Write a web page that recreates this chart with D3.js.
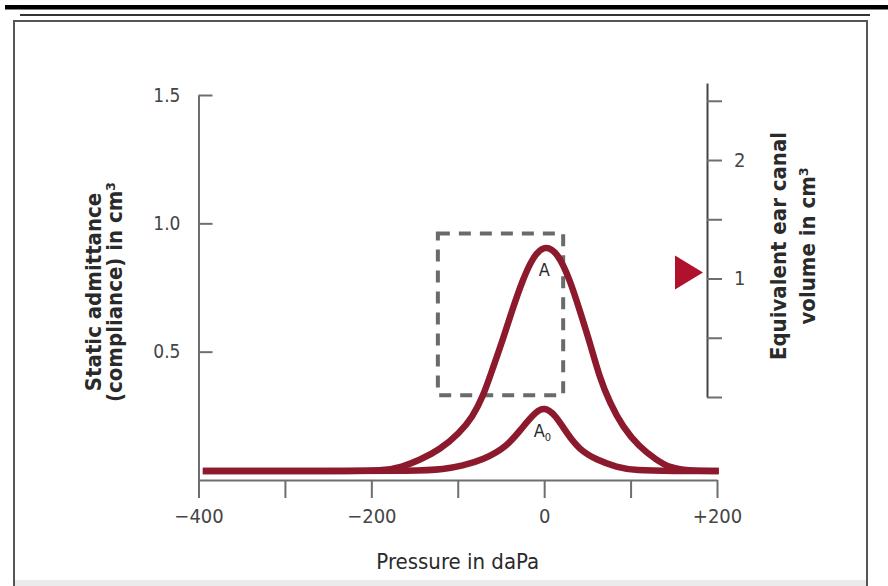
<!DOCTYPE html>
<html>
  <head>
    <title>Tympanogram</title>
    <script src="https://cdn.jsdelivr.net/npm/d3@7"></script>
    <style>
      body { margin: 0; background: #fff; }
      .tick text { font-family: "DejaVu Sans Condensed", "DejaVu Sans", sans-serif; fill: #454545; }
      .title { font-family: "DejaVu Sans Condensed", "DejaVu Sans", sans-serif; fill: #2a2a2a; }
    </style>
  </head>
  <body>
    <svg width="888" height="586" id="mainsvg"></svg>
    <script>
      // values
      const pressureTicks = [-400, -300, -200, -100, 0, 100, 200];
      const pressureLabels = ['\u2212400', '', '\u2212200', '', '0', '', '+200'];
      const admittanceTicks = [0.5, 1.0, 1.5];
      const volumeTicks = [0, 0.5, 1, 1.5, 2, 2.5];

      // curve A (outer) and A0 (inner): pressure in daPa, admittance in cm3
      const outerP = [-395, -300, -220, -185, -165, -144, -121, -98, -83, -71, -60, -48, -37, -25, -13, 0, 15, 30, 41, 53, 64, 76, 91, 110, 130, 145, 165, 202];
      const outerV = [0.035, 0.035, 0.035, 0.037, 0.05, 0.078, 0.117, 0.183, 0.245, 0.323, 0.43, 0.545, 0.662, 0.779, 0.869, 0.915, 0.89, 0.779, 0.662, 0.534, 0.401, 0.30, 0.206, 0.129, 0.078, 0.048, 0.036, 0.035];
      const innerP = [-395, -250, -150, -115, -95, -71, -43, -25, -9, 0, 12, 26, 41, 61, 84, 105, 150, 202];
      const innerV = [0.035, 0.035, 0.035, 0.042, 0.055, 0.078, 0.129, 0.206, 0.268, 0.283, 0.258, 0.183, 0.117, 0.078, 0.05, 0.037, 0.035, 0.035];

      // dashed box (pressure range, admittance range) and volume marker
      const boxP = [-123, 22];
      const boxV = [0.33, 0.96];
      const markerVolume = 1.05;

      const svg = d3.select('#mainsvg');
      const red = '#8c1a2c';
      const gray = '#6e6e6e';

      // page frame
      svg.append('rect').attr('x', 5).attr('y', 5).attr('width', 883).attr('height', 4.5).attr('fill', '#000');
      svg.append('line').attr('x1', 20).attr('x2', 870).attr('y1', 15).attr('y2', 15)
        .attr('stroke', '#333').attr('stroke-width', 2);
      svg.append('rect').attr('x', 14).attr('y', 580).attr('width', 853).attr('height', 6).attr('fill', '#ebebeb');
      svg.append('rect').attr('x', 14).attr('y', 21).attr('width', 853).attr('height', 570)
        .attr('fill', 'none').attr('stroke', '#555').attr('stroke-width', 2);

      const xScale = d3.scaleLinear().domain([-400, 200]).range([198.5, 717]);
      const yScale = d3.scaleLinear().domain([0, 1.5]).range([480, 95]);
      const yRight = d3.scaleLinear().domain([0, 2.65]).range([397, 83]);

      // x axis
      const xAxis = d3.axisBottom(xScale)
        .tickValues(pressureTicks)
        .tickFormat((d, i) => pressureLabels[i])
        .tickSize(18)
        .tickSizeOuter(0)
        .tickPadding(11);
      const xg = svg.append('g').attr('transform', 'translate(0,480)').call(xAxis);
      xg.selectAll('.domain').attr('stroke', gray).attr('stroke-width', 2);
      xg.selectAll('.tick line').attr('stroke', gray).attr('stroke-width', 2);
      xg.selectAll('.tick text').attr('font-size', 20);

      // left axis
      const yAxis = d3.axisLeft(yScale)
        .tickValues(admittanceTicks)
        .tickFormat(d3.format('.1f'))
        .tickSize(-14)
        .tickSizeOuter(0)
        .tickPadding(18);
      const yg = svg.append('g').attr('transform', 'translate(198.5,0)').call(yAxis);
      yg.selectAll('.domain').attr('stroke', gray).attr('stroke-width', 2);
      yg.selectAll('.tick line').attr('stroke', gray).attr('stroke-width', 2);
      yg.selectAll('.tick text').attr('font-size', 19);

      // right axis (ear canal volume)
      const rAxis = d3.axisRight(yRight)
        .tickValues(volumeTicks)
        .tickFormat(d => (d === 1 || d === 2) ? d : '')
        .tickSize(15)
        .tickSizeOuter(0)
        .tickPadding(12);
      const rg = svg.append('g').attr('transform', 'translate(707,0)').call(rAxis);
      rg.selectAll('.domain').attr('stroke', '#444').attr('stroke-width', 2);
      rg.selectAll('.tick line').attr('stroke', gray).attr('stroke-width', 2);
      rg.selectAll('.tick text').attr('font-size', 20);

      // dashed box
      svg.append('rect')
        .attr('x', xScale(boxP[0]))
        .attr('y', yScale(boxV[1]))
        .attr('width', xScale(boxP[1]) - xScale(boxP[0]))
        .attr('height', yScale(boxV[0]) - yScale(boxV[1]))
        .attr('fill', 'none')
        .attr('stroke', '#6a6a6a')
        .attr('stroke-width', 4)
        .attr('stroke-dasharray', '12,9');

      // curves
      const line = d3.line()
        .x(d => xScale(d[0]))
        .y(d => yScale(d[1]))
        .curve(d3.curveBasis);
      [[outerP, outerV], [innerP, innerV]].forEach(([ps, vs]) => {
        svg.append('path')
          .datum(ps.map((p, i) => [p, vs[i]]))
          .attr('d', line)
          .attr('fill', 'none')
          .attr('stroke', red)
          .attr('stroke-width', 6.5)
          .attr('stroke-linejoin', 'round');
      });

      // curve labels
      svg.append('text').attr('class', 'title')
        .attr('x', xScale(0)).attr('y', yScale(0.912) + 30)
        .attr('text-anchor', 'middle').attr('font-size', 18).text('A');
      const a0 = svg.append('text').attr('class', 'title')
        .attr('x', xScale(-2)).attr('y', yScale(0.28) + 29)
        .attr('text-anchor', 'middle').attr('font-size', 18);
      a0.append('tspan').text('A');
      a0.append('tspan').attr('font-size', 11).attr('dy', 4).text('0');

      // volume marker
      const my = yRight(markerVolume);
      svg.append('path')
        .attr('d', `M675,${my - 17}L703,${my}L675,${my + 17}Z`)
        .attr('fill', '#b0122e');

      // axis titles
      svg.append('text').attr('class', 'title')
        .attr('x', xScale(-100)).attr('y', 569)
        .attr('text-anchor', 'middle').attr('font-size', 22)
        .text('Pressure in daPa');

      const lt = svg.append('g').attr('transform', 'translate(101,292) rotate(-90)');
      lt.append('text').attr('class', 'title').attr('text-anchor', 'middle').attr('font-size', 22)
        .attr('font-weight', 'bold').attr('y', 0).text('Static admittance');
      lt.append('text').attr('class', 'title').attr('text-anchor', 'middle').attr('font-size', 22)
        .attr('font-weight', 'bold').attr('y', 21).text('(compliance) in cm\u00b3');

      const rt = svg.append('g').attr('transform', 'translate(786,246) rotate(-90)');
      rt.append('text').attr('class', 'title').attr('text-anchor', 'middle').attr('font-size', 22)
        .attr('font-weight', 'bold').attr('y', 0).text('Equivalent ear canal');
      rt.append('text').attr('class', 'title').attr('text-anchor', 'middle').attr('font-size', 22)
        .attr('font-weight', 'bold').attr('y', 29).text('volume in cm\u00b3');
    </script>
  </body>
</html>
